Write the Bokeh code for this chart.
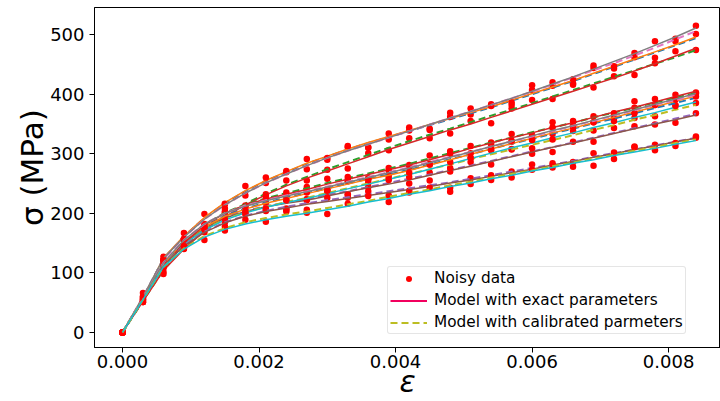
import math
from bokeh.plotting import figure
from bokeh.models import Range1d, FixedTicker, Legend, LegendItem, ColumnDataSource
from bokeh.embed import file_html
from bokeh.resources import INLINE

strain = [0.0, 0.0003, 0.0006, 0.0009, 0.0012, 0.0015, 0.0018, 0.0021, 0.0024, 0.0027,
          0.0030, 0.0033, 0.0036, 0.0039, 0.0042, 0.0045, 0.0048, 0.0051, 0.0054, 0.0057,
          0.0060, 0.0063, 0.0066, 0.0069, 0.0072, 0.0075, 0.0078, 0.0081, 0.0084]

x_ticks = [0.0, 0.002, 0.004, 0.006, 0.008]
x_tick_labels = ["0.000", "0.002", "0.004", "0.006", "0.008"]
y_ticks = [0, 100, 200, 300, 400, 500]
y_tick_labels = ["0", "100", "200", "300", "400", "500"]

# exact-parameter model curves (MPa)
exact0 = [0,58,125,162,193,218,238,255,270,284,296,308,319,329,339,349,359,369,379,390,401,412,423,435,447,459,471,483,496]
exact1 = [0,52,104,140,170,194,214,231,246,259,271,283,295,307,318,329,340,350,361,372,383,394,405,416,427,439,451,464,477]
exact2 = [0,56,114,150,175,192,203,211,217,222,229,236,243,249,256,264,272,279,287,295,303,311,318,326,334,342,350,357,365]
exact3 = [0,60,124,160,190,214,234,251,266,280,293,305,316,327,338,349,360,371,382,393,405,417,429,442,455,468,482,496,511]
exact4 = [0,56,112,148,172,189,201,210,218,225,233,241,249,257,265,274,283,292,301,310,318,327,335,344,352,361,369,378,387]
exact5 = [0,57,115,152,177,195,207,217,225,233,241,249,257,264,272,281,290,299,308,317,326,335,343,352,361,370,379,388,397]
exact6 = [0,55,110,150,180,200,214,224,232,240,249,257,265,273,281,290,299,309,318,327,335,344,352,361,370,378,387,396,405]
exact7 = [0,55,112,145,168,184,195,203,209,215,220,225,230,235,240,245,251,256,262,268,274,281,287,294,300,307,313,320,326]
exact8 = [0,57,117,155,182,200,212,221,229,236,244,252,260,268,276,285,294,303,312,321,330,339,347,356,365,374,383,392,401]
exact9 = [0,55,110,140,160,173,182,189,195,200,206,212,219,225,232,238,245,251,258,264,271,277,284,290,297,303,309,316,322]

# calibrated-parameter model curves (MPa)
calib0 = [0,58,124,161,192,217,237,254,269,283,295,307,318,328,338,348,358,368,378,389,400,411,422,434,446,458,470,482,494]
calib1 = [0,53,105,142,172,196,216,233,248,261,274,286,298,310,321,332,342,353,364,374,385,396,407,418,429,440,451,462,474]
calib2 = [0,56,114,151,176,193,204,212,218,224,231,237,244,251,258,265,273,280,288,296,304,311,319,327,335,343,351,359,367]
calib3 = [0,59,123,160,190,214,234,251,266,280,293,305,316,327,338,349,360,371,382,393,404,416,428,440,452,465,478,492,506]
calib4 = [0,56,112,148,173,190,202,211,219,226,234,242,250,258,266,274,282,291,299,307,315,323,331,340,348,357,365,374,382]
calib5 = [0,57,115,152,178,196,208,218,226,234,242,250,258,265,273,282,291,299,308,317,325,334,342,351,359,368,377,385,394]
calib6 = [0,55,111,151,181,201,215,225,234,242,251,259,267,275,283,292,301,310,319,327,336,344,352,361,369,377,386,394,402]
calib7 = [0,55,112,146,169,185,196,204,211,217,222,227,232,237,242,247,252,258,264,270,276,282,288,295,301,307,314,320,327]
calib8 = [0,57,117,155,182,200,213,222,230,237,245,253,261,269,277,286,295,303,312,321,329,338,347,355,364,373,382,390,399]
calib9 = [0,55,110,141,162,175,185,192,198,203,209,215,221,228,234,240,247,253,260,266,272,279,285,292,298,305,311,318,324]

# noisy measurements (MPa)
noisy0 = [0,55,127,157,199,216,246,251,271,291,290,311,310,334,339,342,369,366,383,382,407,414,418,444,443,462,461,489,501]
noisy1 = [0,56,98,143,168,201,209,232,255,255,273,275,301,306,326,326,334,355,351,376,390,392,416,411,430,432,452,472,474]
noisy2 = [0,51,122,148,179,185,206,217,208,224,234,232,244,259,250,268,270,286,282,307,300,303,320,320,343,346,349,352,368]
noisy3 = [0,66,121,167,182,215,230,260,269,274,293,313,311,324,344,340,362,376,380,386,415,420,425,448,447,469,489,493,515]
noisy4 = [0,54,117,140,175,198,200,204,222,222,240,231,251,263,261,282,276,293,306,308,309,333,338,339,360,360,363,382,385]
noisy5 = [0,60,108,156,178,190,213,208,227,241,238,254,256,256,281,283,286,293,315,320,324,324,348,353,355,377,382,380,403]
noisy6 = [0,51,111,156,173,203,212,229,222,244,258,256,259,276,278,297,304,301,319,333,331,353,345,363,368,388,382,399,401]
noisy7 = [0,60,110,141,176,178,199,205,206,206,226,226,237,230,238,255,243,259,256,270,282,277,286,301,291,312,315,313,327]
noisy8 = [0,51,121,157,179,208,203,224,235,235,239,261,258,272,268,282,300,313,308,322,323,344,355,353,367,368,392,391,396]
noisy9 = [0,57,102,145,155,171,189,186,203,201,199,216,229,219,235,243,236,249,264,260,273,284,278,280,302,311,306,318,329]

exact_sets = [exact0, exact1, exact2, exact3, exact4, exact5, exact6, exact7, exact8, exact9]
calib_sets = [calib0, calib1, calib2, calib3, calib4, calib5, calib6, calib7, calib8, calib9]
noisy_sets = [noisy0, noisy1, noisy2, noisy3, noisy4, noisy5, noisy6, noisy7, noisy8, noisy9]

cycle = ["#1f77b4", "#ff7f0e", "#2ca02c", "#d62728", "#9467bd",
         "#8c564b", "#e377c2", "#7f7f7f", "#bcbd22", "#17becf"]

FONT = "DejaVu Sans"

p = figure(width=720, height=401, output_backend="svg", toolbar_location=None,
           x_range=Range1d(-0.00041, 0.00876), y_range=Range1d(-25.3, 545.5),
           min_border_left=94, min_border_right=0, min_border_top=7, min_border_bottom=54)
p.background_fill_color = "white"
p.border_fill_color = "white"
p.xgrid.visible = False
p.ygrid.visible = False
p.outline_line_color = "black"
p.outline_line_width = 1
p.outline_line_alpha = 1

for i in range(10):
    src = ColumnDataSource(dict(x=strain, noisy=noisy_sets[i], exact=exact_sets[i], calib=calib_sets[i]))
    p.scatter("x", "noisy", source=src, size=6.5, color="#ff0000", line_width=0)
    p.line("x", "calib", source=src, line_color=cycle[(2 * i) % 10], line_width=2, line_dash="7 4")
    p.line("x", "exact", source=src, line_color=cycle[(2 * i + 1) % 10], line_width=1.5)

# legend proxies (not-a-number point, nothing drawn in the plot)
nan_src = ColumnDataSource(dict(x=[math.nan], y=[math.nan]))
r_dot = p.scatter("x", "y", source=nan_src, size=4.5, color="#ff0000", line_width=0)
r_exact = p.line("x", "y", source=nan_src, line_color="#f2005e", line_width=2)
r_cal = p.line("x", "y", source=nan_src, line_color="#bcbd22", line_width=2, line_dash="7 4")

legend = Legend(items=[LegendItem(label="Noisy data", renderers=[r_dot]),
                       LegendItem(label="Model with exact parameters", renderers=[r_exact]),
                       LegendItem(label="Model with calibrated parmeters", renderers=[r_cal])],
                location=(293, 13))
legend.label_text_font = FONT
legend.label_text_font_size = "15.3px"
legend.label_text_color = "#000000"
legend.glyph_width = 37
legend.glyph_height = 15
legend.label_height = 15
legend.label_standoff = 7
legend.spacing = 4
legend.padding = 2
legend.margin = 0
legend.border_line_color = "#cccccc"
legend.border_line_width = 1
legend.border_radius = 3
legend.background_fill_alpha = 0.8
p.add_layout(legend, "center")

xa = p.xaxis[0]
xa.ticker = FixedTicker(ticks=x_ticks, minor_ticks=[])
xa.major_label_overrides = dict(zip(x_ticks, x_tick_labels))
ya = p.yaxis[0]
ya.ticker = FixedTicker(ticks=y_ticks, minor_ticks=[])
ya.major_label_overrides = dict(zip(y_ticks, y_tick_labels))

for ax in (xa, ya):
    ax.axis_line_color = "black"
    ax.axis_line_width = 1
    ax.major_tick_line_color = "black"
    ax.major_tick_line_width = 1
    ax.major_tick_in = 0
    ax.major_tick_out = 5
    ax.minor_tick_line_color = None
    ax.major_label_text_font = FONT
    ax.major_label_text_font_size = "18px"
    ax.major_label_text_color = "#000000"
    ax.axis_label_text_font = FONT
    ax.axis_label_text_color = "#000000"

xa.major_label_standoff = 2
xa.axis_label = "ε"
xa.axis_label_text_font_size = "30px"
xa.axis_label_text_font_style = "italic"
xa.axis_label_standoff = -7

ya.major_label_standoff = 5
ya.axis_label = "\u00a0\u00a0σ (MPa)"
ya.axis_label_text_font_size = "31px"
ya.axis_label_text_font_style = "normal"
ya.axis_label_standoff = -3

open("out.html", "w").write(file_html(p, INLINE))
